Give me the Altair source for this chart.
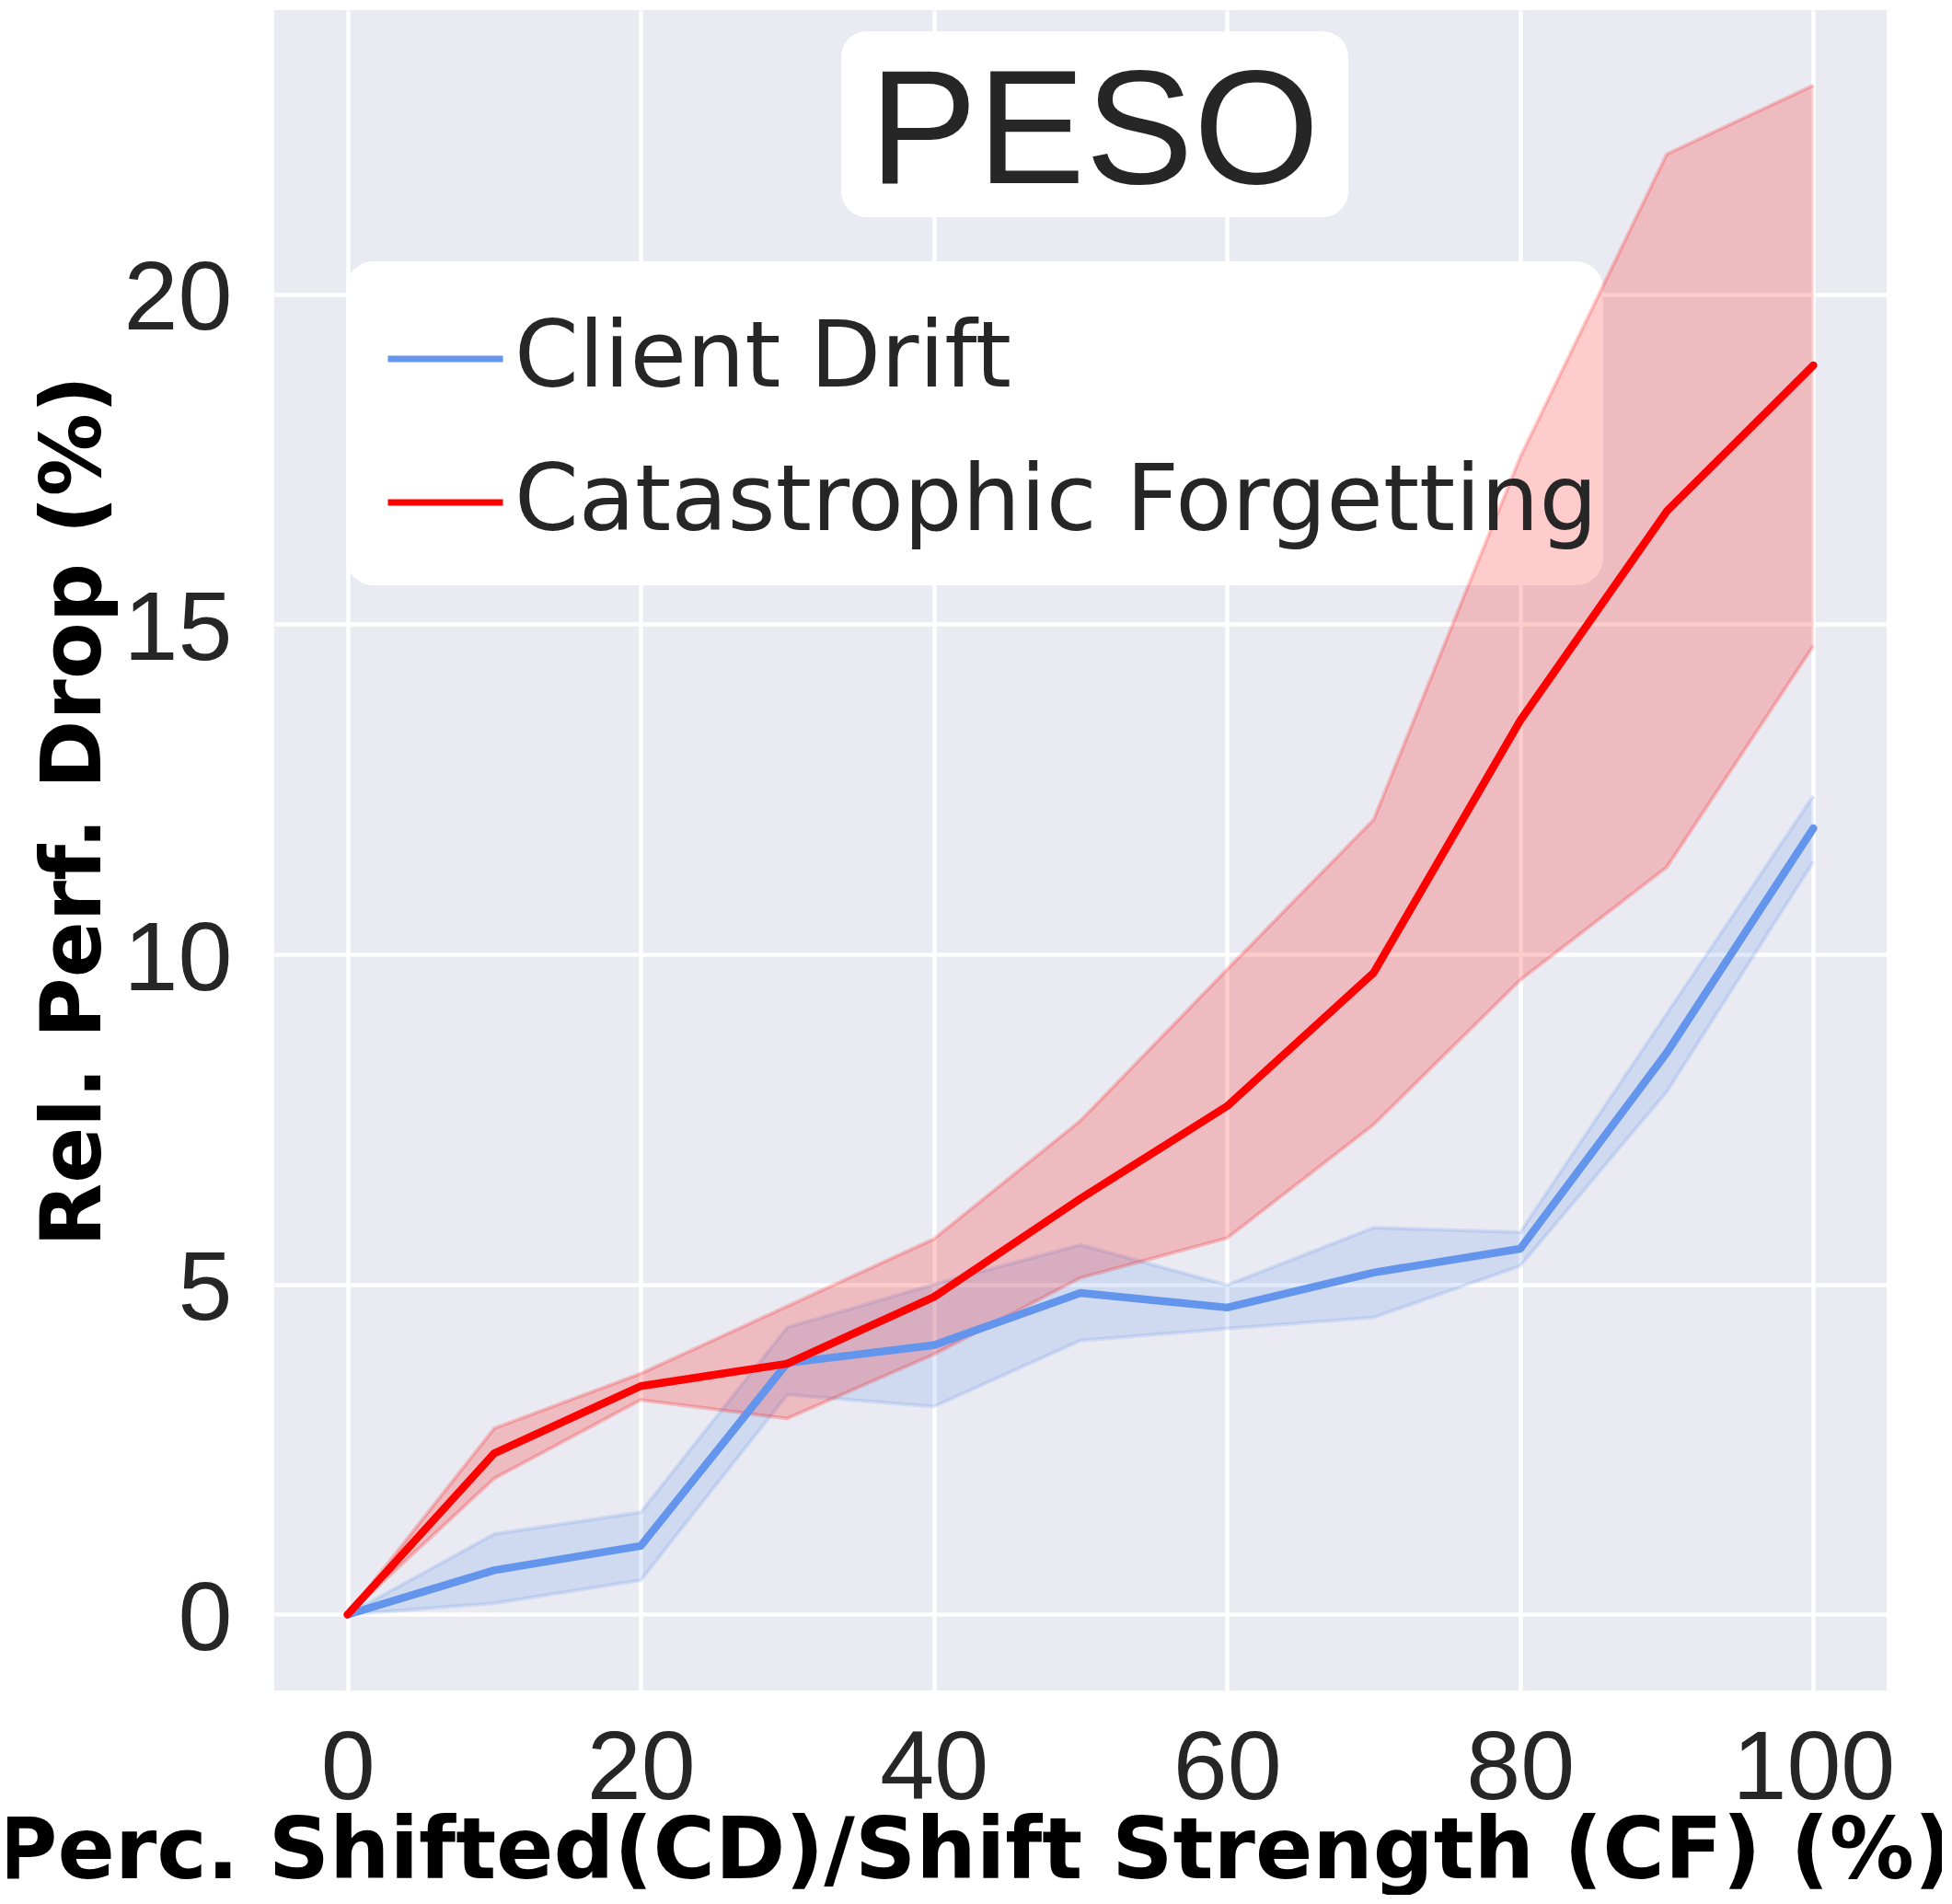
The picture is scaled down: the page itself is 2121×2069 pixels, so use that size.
import altair as alt
import pandas as pd

# ---- data ----
x_vals = [0, 10, 20, 30, 40, 50, 60, 70, 80, 90, 100]

cd_mean = [0.0, 0.67, 1.04, 3.81, 4.08, 4.87, 4.65, 5.18, 5.54, 8.51, 11.91]
cd_lo   = [0.0, 0.17, 0.52, 3.33, 3.15, 4.15, 4.33, 4.50, 5.28, 7.92, 11.40]
cd_hi   = [0.0, 1.22, 1.55, 4.35, 5.00, 5.60, 4.99, 5.86, 5.79, 9.10, 12.40]

cf_mean = [0.0, 2.44, 3.46, 3.80, 4.81, 6.30, 7.70, 9.72, 13.54, 16.71, 18.92]
cf_lo   = [0.0, 2.06, 3.25, 2.97, 3.94, 5.10, 5.70, 7.42, 9.61, 11.32, 14.67]
cf_hi   = [0.0, 2.82, 3.65, 4.67, 5.69, 7.48, 9.77, 12.04, 17.53, 22.12, 23.16]

series_names = ["Client Drift", "Catastrophic Forgetting"]
series_colors = ["#6495ED", "#FF0000"]
x_ticks = [0, 20, 40, 60, 80, 100]
y_ticks = [0, 5, 10, 15, 20]
title_text = "PESO"
x_title = "Perc. Shifted(CD)/Shift Strength (CF) (%)"
y_title = "Rel. Perf. Drop (%)"

rows = []
for name, m, lo, hi in [(series_names[0], cd_mean, cd_lo, cd_hi),
                        (series_names[1], cf_mean, cf_lo, cf_hi)]:
    for xv, a, b, c in zip(x_vals, m, lo, hi):
        rows.append({"x": xv, "series": name, "mean": a, "lo": b, "hi": c})
df = pd.DataFrame(rows)

W, H = 1752, 1826

color_scale = alt.Scale(domain=series_names, range=series_colors)

x_enc = alt.X("x:Q", scale=alt.Scale(domain=[-5, 105], nice=False, zero=False),
              axis=alt.Axis(values=x_ticks, title=x_title, ticks=False, domain=False,
                            grid=True, gridColor="white", gridWidth=4.5,
                            labelFont="Liberation Sans", labelFontSize=106,
                            labelColor="#262626", labelPadding=33,
                            titleFont="DejaVu Sans", titleFontWeight="bold",
                            titleFontSize=92, titleColor="black",
                            titleX=760, titleY=203, titleAlign="center",
                            titleBaseline="alphabetic"))
y_scale = alt.Scale(domain=[-1.15, 24.3], nice=False, zero=False)
y_axis = alt.Axis(values=y_ticks, title=y_title, ticks=False, domain=False,
                  grid=True, gridColor="white", gridWidth=4.5,
                  labelFont="Liberation Sans", labelFontSize=106,
                  labelColor="#262626", labelPadding=46, labelOffset=6,
                  titleFont="DejaVu Sans", titleFontWeight="bold",
                  titleFontSize=90, titleColor="black",
                  titleX=-190, titleY=870, titleAngle=-90, titleAlign="center",
                  titleBaseline="alphabetic")

base = alt.Chart(df)

one = pd.DataFrame({"k": [0]})

legend_box = alt.Chart(one).mark_rect(color="white", cornerRadius=30).encode(
    x=alt.value(78), x2=alt.value(1444), y=alt.value(273), y2=alt.value(625))
title_box = alt.Chart(one).mark_rect(color="white", cornerRadius=28).encode(
    x=alt.value(616), x2=alt.value(1167), y=alt.value(23), y2=alt.value(225))
title_mark = alt.Chart(one).mark_text(
    text=title_text, font="Liberation Sans", fontSize=176, color="#262626",
    align="center", baseline="alphabetic").encode(x=alt.value(891), y=alt.value(188))

layers = [legend_box, title_box, title_mark]

for name, col in zip(series_names, series_colors):
    sub = base.transform_filter(alt.datum.series == name)
    band = sub.mark_area(opacity=0.2, color=col).encode(
        x=x_enc, y=alt.Y("lo:Q", scale=y_scale, axis=y_axis), y2="hi:Q")
    edge_lo = sub.mark_line(opacity=0.2, strokeWidth=4, color=col).encode(
        x=x_enc, y=alt.Y("lo:Q", scale=y_scale, axis=y_axis))
    edge_hi = sub.mark_line(opacity=0.2, strokeWidth=4, color=col).encode(
        x=x_enc, y=alt.Y("hi:Q", scale=y_scale, axis=y_axis))
    layers += [band, edge_lo, edge_hi]

legend = alt.Legend(title=None, orient="none", legendX=120, legendY=313,
                    symbolType="stroke", symbolSize=15625, symbolStrokeWidth=7,
                    labelFont="DejaVu Sans", labelFontSize=100,
                    labelColor="#262626", labelLimit=3000, labelOffset=9,
                    rowPadding=40, padding=0, labelBaseline="middle")

for name in series_names:
    sub = base.transform_filter(alt.datum.series == name)
    line = sub.mark_line(strokeWidth=8.5, strokeCap="round", strokeJoin="round").encode(
        x=x_enc, y=alt.Y("mean:Q", scale=y_scale, axis=y_axis),
        color=alt.Color("series:N", scale=color_scale, legend=legend))
    layers.append(line)

chart = alt.layer(*layers).properties(
    width=W, height=H,
    autosize=alt.AutoSizeParams(type="none"),
    padding={"left": 290, "top": 3, "right": 60, "bottom": 222},
    background="white",
).configure_view(fill="#EAEAF2", strokeWidth=0)

chart.save("out.html", embed_options={"renderer": "svg", "actions": False})
